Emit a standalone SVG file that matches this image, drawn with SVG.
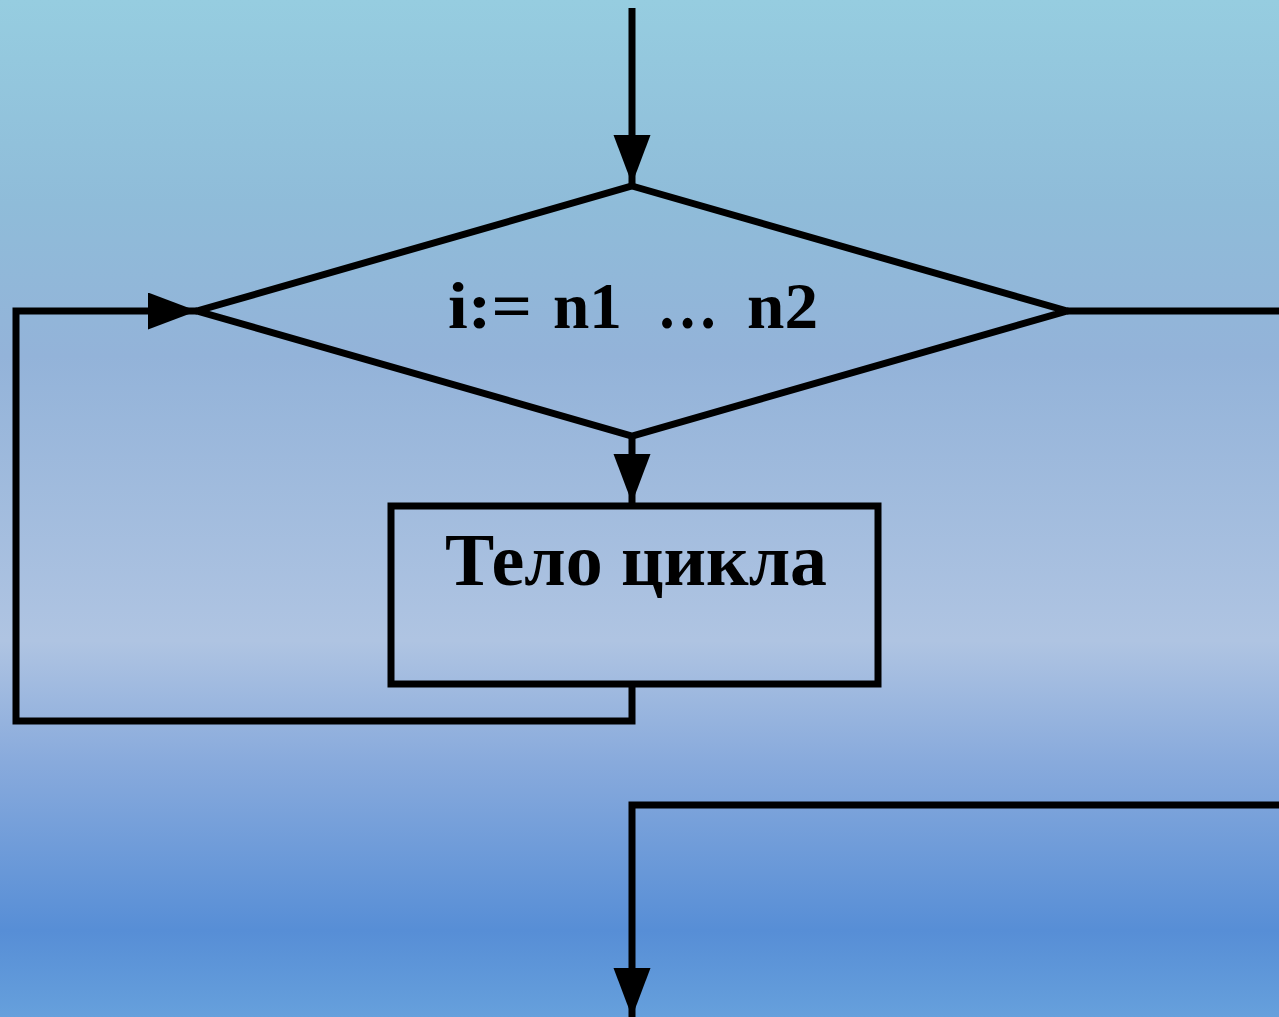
<svg xmlns="http://www.w3.org/2000/svg" width="1279" height="1017" viewBox="0 0 1279 1017">
<defs>
<linearGradient id="bg" x1="0" y1="0" x2="0" y2="1">
<stop offset="0" stop-color="#96cde0"/>
<stop offset="0.2" stop-color="#8fbcd9"/>
<stop offset="0.35" stop-color="#93b3d9"/>
<stop offset="0.63" stop-color="#afc4e2"/>
<stop offset="0.75" stop-color="#88aadc"/>
<stop offset="0.915" stop-color="#578ed6"/>
<stop offset="1" stop-color="#66a0dc"/>
</linearGradient>
<marker id="ah" markerUnits="userSpaceOnUse" markerWidth="50" markerHeight="40" viewBox="0 0 50 40" refX="49" refY="18.5" orient="auto">
<path d="M0,0 L49,18.5 L0,37 Z" fill="#000"/>
</marker>
<style>
.ln{fill:none;stroke:#000;stroke-width:7;stroke-linejoin:miter;stroke-linecap:butt}
.tx{font-family:"Liberation Serif","Times New Roman",serif;font-weight:bold;fill:#000}
.t1{font-size:66px}
</style>
</defs>
<rect x="0" y="0" width="1279" height="1017" fill="url(#bg)"/>
<g id="decision">
<polygon class="ln" points="632,186 1067,311 632,436 197,311"/>
<text class="tx t1" x="448" y="328" textLength="84" lengthAdjust="spacingAndGlyphs">i:=</text>
<text class="tx t1" x="553" y="328" textLength="69" lengthAdjust="spacingAndGlyphs">n1</text>
<text class="tx t1" x="657" y="328" textLength="61" lengthAdjust="spacingAndGlyphs">…</text>
<text class="tx t1" x="747" y="328" textLength="71" lengthAdjust="spacingAndGlyphs">n2</text>
</g>
<g id="body">
<rect class="ln" x="391" y="506" width="487" height="178"/>
<text class="tx" font-size="74" x="445" y="585" textLength="382" lengthAdjust="spacingAndGlyphs">Тело цикла</text>
</g>
<g id="connectors">
<path class="ln" d="M632,8 V184" marker-end="url(#ah)"/>
<path class="ln" d="M632,436 V503" marker-end="url(#ah)"/>
<path class="ln" d="M632,684 V721 H16 V311 H197" marker-end="url(#ah)"/>
<path class="ln" d="M1067,311 H1279"/>
<path class="ln" d="M1279,805 H632 V1017" marker-end="url(#ah)"/>
</g>
</svg>
